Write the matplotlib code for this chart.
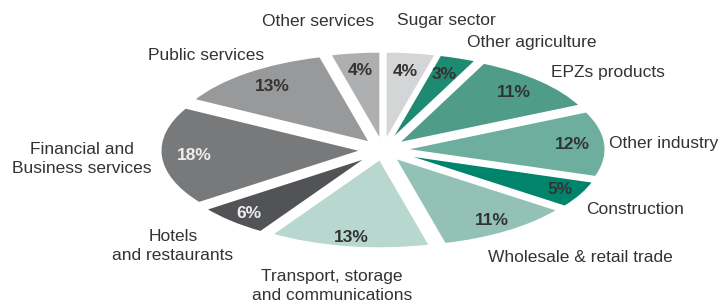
import numpy as np
import matplotlib
matplotlib.use("Agg")
import matplotlib.pyplot as plt

# Sector shares (%), clockwise from the top
sectors = ["Sugar sector", "Other agriculture", "EPZs products", "Other industry",
           "Construction", "Wholesale & retail trade",
           "Transport, storage\nand communications", "Hotels\nand restaurants",
           "Financial and\nBusiness services", "Public services", "Other services"]
shares = [4, 3, 11, 12, 5, 11, 13, 6, 18, 13, 4]
colors = ["#d4d5d6", "#1f8a72", "#4f9c89", "#6eae9e", "#00846b", "#93c1b6",
          "#b7d7cf", "#525356", "#78797b", "#98999b", "#aeafb1"]
pct_colors = ["#333333", "#333333", "#333333", "#333333", "#333333", "#333333",
              "#333333", "#eeeeee", "#eeeeee", "#333333", "#333333"]

plt.rcParams["font.family"] = ["Liberation Sans", "DejaVu Sans"]

W, H = 720, 303
fig = plt.figure(figsize=(W / 100, H / 100), dpi=100)
ax = fig.add_axes([0, 0, 1, 1])

wedges, texts, autotexts = ax.pie(
    shares, colors=colors, startangle=90, counterclock=False,
    explode=[0.1] * len(shares), radius=0.97,
    autopct="%d%%", pctdistance=0.84,
    wedgeprops=dict(edgecolor="white", linewidth=1.5),
    textprops=dict(fontsize=12.5, fontweight="bold"))

# nudge the percentage labels outward/inward per wedge
pct_r = [0.86, 0.87, 0.89, 0.91, 0.955, 0.93, 0.96, 0.94, 0.91, 0.87, 0.87]
for w, t, c, r in zip(wedges, autotexts, pct_colors, pct_r):
    mid = np.deg2rad((w.theta1 + w.theta2) / 2)
    t.set_position((r * np.cos(mid), r * np.sin(mid)))
    t.set_color(c)

# squash the pie into an ellipse
cx, cy, rx, ry = 383, 150, 208, 92
ax.set_aspect("auto")
ax.set_xlim(-cx / rx, (W - cx) / rx)
ax.set_ylim(-(H - cy) / ry, cy / ry)
ax.axis("off")

# outside labels (pixel positions, top-left origin)
label_pos = [(446, 21, "center"), (532, 42, "center"), (608, 73, "center"),
             (609, 143, "left"), (586, 209, "left"), (580, 257, "center"),
             (332, 286, "center"), (173, 246, "center"), (82, 159, "center"),
             (206, 55, "center"), (318, 22, "center")]
for name, (x, y, ha) in zip(sectors, label_pos):
    fig.text(x / W, 1 - y / H, name, ha=ha, va="center", fontsize=12.5,
             color="#333333", linespacing=1.35)

fig.savefig("out.png", dpi=100)
